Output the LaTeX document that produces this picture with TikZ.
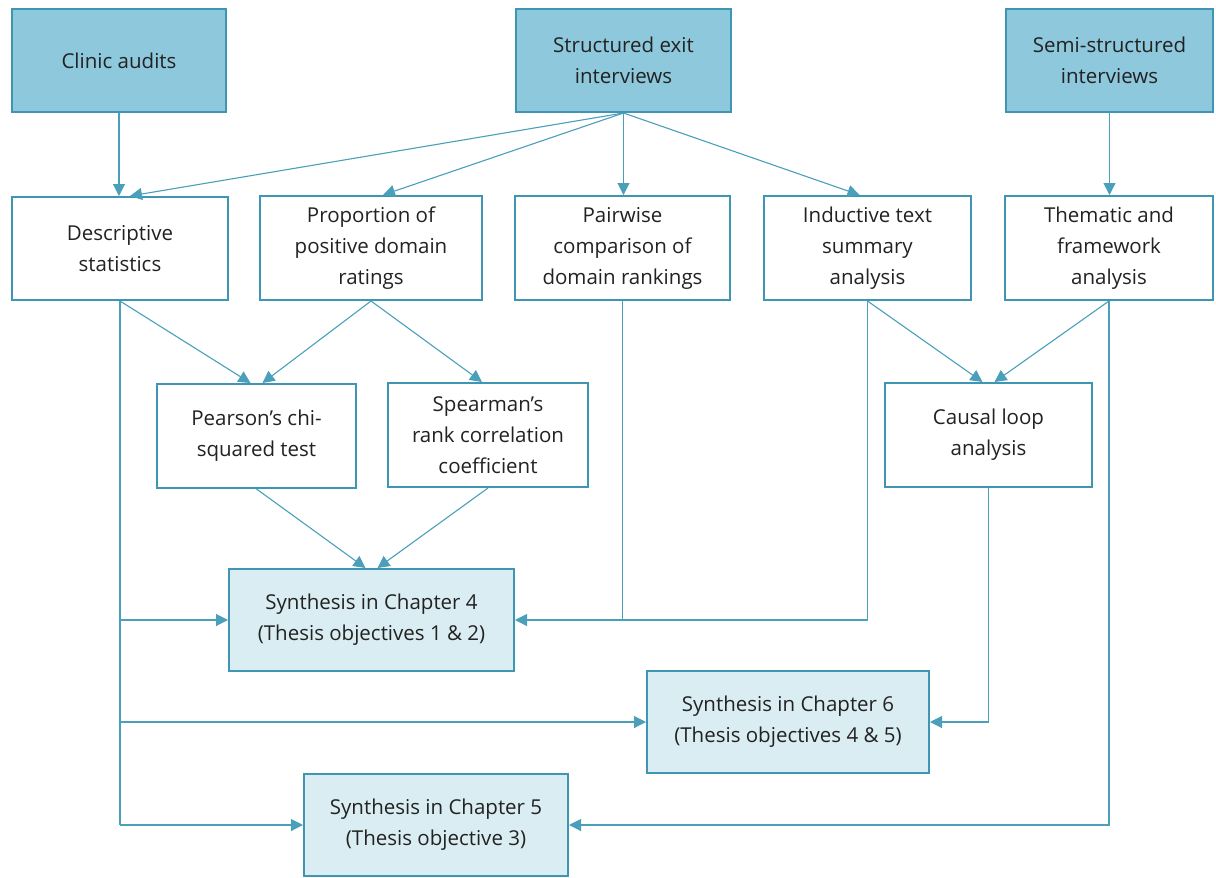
\documentclass[tikz,border=0pt]{standalone}
\usepackage{fontspec}
\setmainfont{Open Sans}
\usetikzlibrary{arrows.meta,calc}
\definecolor{dark}{HTML}{8EC8DC}
\definecolor{light}{HTML}{DAEDF3}
\definecolor{edge}{HTML}{3F96B2}
\definecolor{conn}{HTML}{4A9FBA}
\definecolor{txt}{HTML}{222222}
\tikzset{
  base/.style={draw=edge, line width=2pt, inner sep=0pt, align=center, text=txt,
    font=\fontsize{20.5}{31}\selectfont},
  topbox/.style={base, fill=dark},
  midbox/.style={base, fill=white},
  synbox/.style={base, fill=light},
  arr/.style={draw=conn, line width=1.1pt, -{Triangle[length=12pt,width=12pt]}},
  ln/.style={draw=conn, line width=1.1pt}
}
\begin{document}
\begin{tikzpicture}[x=1pt,y=-1pt]
\useasboundingbox (0,0) rectangle (1216,878);
% top row
\node[topbox, minimum width=214, minimum height=103] (ca) at (119,60.5) {Clinic audits};
\node[topbox, minimum width=215, minimum height=103] (sei) at (623.5,60.5) {Structured exit\\interviews};
\node[topbox, minimum width=207, minimum height=103] (ssi) at (1109.5,60.5) {Semi-structured\\interviews};
% second row
\node[midbox, minimum width=216, minimum height=103] (ds) at (120,248.5) {Descriptive\\statistics};
\node[midbox, minimum width=222, minimum height=104] (pp) at (371,248) {Proportion of\\positive domain\\ratings};
\node[midbox, minimum width=215, minimum height=104] (pc) at (622.5,248) {Pairwise\\comparison of\\domain rankings};
\node[midbox, minimum width=207, minimum height=104] (it) at (867.5,248) {Inductive text\\summary\\analysis};
\node[midbox, minimum width=208, minimum height=104] (tf) at (1109,248) {Thematic and\\framework\\analysis};
% third row
\node[midbox, minimum width=199, minimum height=104] (pe) at (256.5,436) {Pearson's chi-\\squared test};
\node[midbox, minimum width=200, minimum height=104] (sp) at (488,435) {Spearman's\\rank correlation\\coefficient};
\node[midbox, minimum width=207, minimum height=104] (cl) at (988.5,435) {Causal loop\\analysis};
% synthesis
\node[synbox, minimum width=285, minimum height=102] (c4) at (371.5,620) {Synthesis in Chapter 4\\(Thesis objectives 1 \& 2)};
\node[synbox, minimum width=282, minimum height=102] (c6) at (788,722) {Synthesis in Chapter 6\\(Thesis objectives 4 \& 5)};
\node[synbox, minimum width=264, minimum height=102] (c5) at (436,825) {Synthesis in Chapter 5\\(Thesis objective 3)};
% connectors top
\draw[arr] (ca.south) -- (ds.north -| ca.south);
\draw[arr] (ssi.south) -- (tf.north -| ssi.south);
\draw[arr] (sei.south) -- ($(ds.north)+(10,0)$);
\draw[arr] (sei.south) -- ($(pp.north)+(12,0)$);
\draw[arr] (sei.south) -- (pc.north -| sei.south);
\draw[arr] (sei.south) -- ($(it.north)+(-8,0)$);
% second to third
\draw[arr] (ds.south) -- ($(pe.north)+(-6,0)$);
\draw[arr] (pp.south) -- ($(pe.north)+(6,0)$);
\draw[arr] (pp.south) -- ($(sp.north)+(-6,0)$);
\draw[arr] (it.south) -- ($(cl.north)+(-6,0)$);
\draw[arr] (tf.south) -- ($(cl.north)+(6,0)$);
\draw[arr] (pe.south) -- ($(c4.north)+(-6,0)$);
\draw[arr] (sp.south) -- ($(c4.north)+(6,0)$);
% descriptive trunk
\coordinate (dbot) at (ds.south |- c5.west);
\draw[ln] (ds.south) -- (dbot);
\draw[arr] (ds.south |- c4.west) -- (c4.west);
\draw[arr] (ds.south |- c6.west) -- (c6.west);
\draw[arr] (dbot) -- (c5.west);
% right side
\draw[arr] (pc.south) -- (pc.south |- c4.east) -- (c4.east);
\draw[ln] (it.south) -- (it.south |- c4.east) -- (pc.south |- c4.east);
\draw[arr] (cl.south) -- (cl.south |- c6.east) -- (c6.east);
\draw[arr] (tf.south) -- (tf.south |- c5.east) -- (c5.east);
\end{tikzpicture}
\end{document}
